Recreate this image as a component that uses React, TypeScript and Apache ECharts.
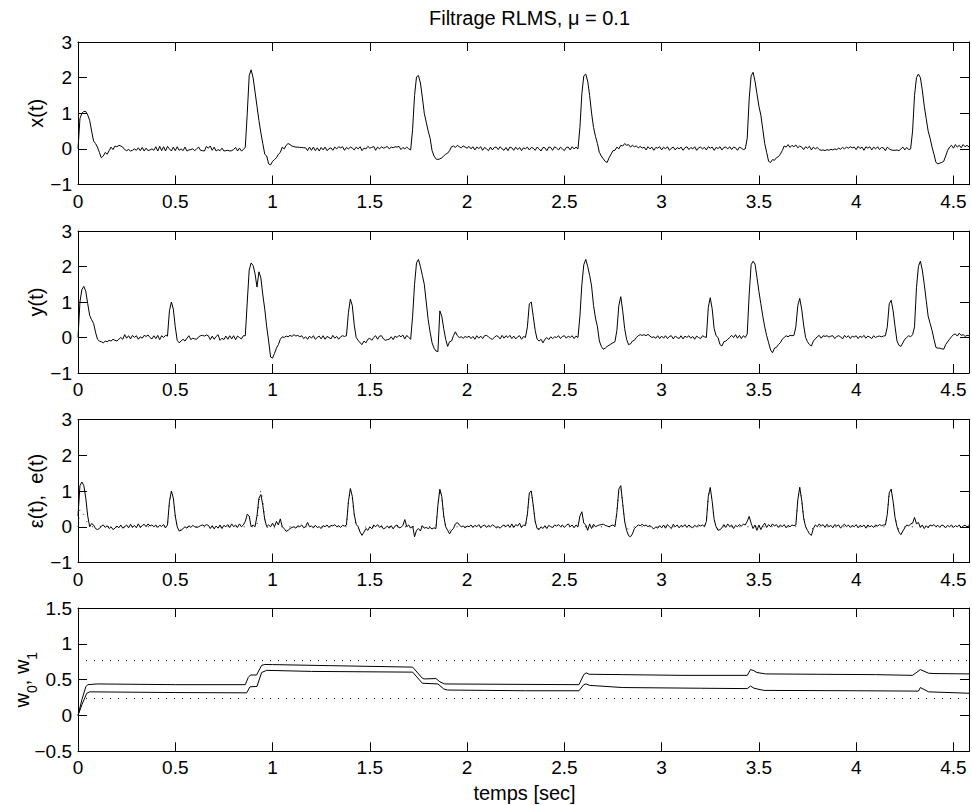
import React, { useEffect, useRef } from 'react';
import * as echarts from 'echarts';

// ---------- data ----------
const DT = 0.01; // sampling step of the signals (s)
const T_MAX = 4.58;
const X_TICK = 0.5;
const TITLE = 'Filtrage RLMS, \u03bc = 0.1';
const X_NAME = 'temps [sec]';
const Y_NAMES = ['x(t)', 'y(t)', '\u03b5(t),  e(t)'];
const Y_RANGES = [
  [-1, 3, 1],
  [-1, 3, 1],
  [-1, 3, 1],
  [-0.5, 1.5, 0.5],
];
const W_REF = [0.765, 0.235];

// x(t), one row = 0.1 s
const xSig = [
  0.0, 0.85, 1.0, 1.05, 1.05, 0.95, 0.8, 0.5, 0.22, 0.15,
  0.05, -0.1, -0.25, -0.2, -0.1, -0.15, -0.05, 0.05, -0.02, 0.08,
  0.06, 0.1, 0.08, 0.05, -0.02, -0.05, -0.02, -0.06, -0.04, 0.0,
  -0.04, 0.03, -0.05, 0.04, -0.06, 0.02, -0.05, -0.03, 0.0, -0.04,
  0.06, -0.06, 0.07, -0.05, 0.06, -0.06, 0.07, 0.0, -0.06, 0.05,
  -0.05, 0.06, -0.04, 0.0, -0.05, 0.05, -0.06, -0.03, -0.02, 0.0,
  -0.05, 0.0, 0.05, -0.04, -0.05, -0.06, 0.07, 0.02, 0.08, -0.04,
  0.05, -0.06, -0.02, -0.05, 0.02, -0.06, -0.05, -0.04, -0.06, -0.05,
  -0.02, 0.04, -0.06, 0.02, -0.06, -0.02, 0.05, 1.0, 2.05, 2.22,
  2.0, 1.6, 1.2, 0.8, 0.45, 0.15, -0.15, -0.2, -0.42, -0.45,
  -0.35, -0.3, -0.25, -0.15, -0.1, 0.05, 0.0, 0.1, 0.15, 0.12,
  0.08, 0.06, 0.05, 0.05, 0.04, 0.04, 0.03, 0.03, -0.05, 0.05,
  -0.04, 0.05, -0.05, 0.03, -0.06, 0.04, -0.03, 0.05, -0.05, 0.0,
  0.03, -0.04, 0.05, 0.0, 0.06, 0.03, 0.06, -0.04, 0.04, 0.0,
  0.05, 0.02, -0.03, 0.05, 0.0, 0.06, -0.05, 0.02, 0.0, 0.07,
  0.02, 0.04, 0.07, -0.04, 0.05, 0.0, 0.06, 0.02, 0.04, 0.07,
  0.0, 0.05, 0.03, 0.06, 0.05, 0.07, -0.02, 0.04, 0.0, 0.05,
  0.0, -0.03, 0.55, 1.5, 2.02, 2.06, 1.85, 1.45, 1.0, 0.75,
  0.5, 0.3, -0.05, -0.2, -0.28, -0.3, -0.28, -0.25, -0.2, -0.15,
  -0.12, -0.05, 0.06, 0.08, 0.04, 0.1, 0.06, 0.03, 0.08, 0.05,
  0.02, 0.07, 0.0, 0.06, -0.03, 0.05, 0.01, 0.06, -0.04, 0.04,
  0.0, -0.05, 0.05, -0.03, 0.04, 0.05, -0.02, 0.06, 0.0, -0.04,
  0.04, -0.05, 0.05, 0.03, -0.04, 0.05, -0.02, 0.04, -0.05, 0.03,
  0.0, 0.05, -0.03, 0.04, 0.02, -0.04, 0.05, 0.0, -0.06, 0.04,
  0.03, -0.05, 0.05, 0.04, -0.04, 0.06, 0.02, -0.03, 0.05, 0.0,
  -0.05, 0.04, 0.05, -0.03, 0.06, 0.0, 0.05, 0.0, 0.6, 1.55,
  2.05, 2.1, 1.9, 1.5, 1.0, 0.6, 0.35, 0.15, -0.1, -0.2,
  -0.28, -0.35, -0.38, -0.25, -0.15, -0.05, -0.04, 0.05, 0.0, 0.1,
  0.08, 0.15, 0.1, 0.12, 0.05, 0.1, 0.06, 0.08, 0.03, 0.07,
  0.02, 0.05, -0.03, 0.06, 0.0, 0.05, -0.04, 0.04, 0.02, 0.06,
  -0.03, 0.05, 0.0, 0.06, -0.04, 0.02, 0.05, -0.03, 0.04, 0.0,
  0.05, -0.04, 0.03, 0.06, -0.02, 0.04, 0.0, 0.06, -0.04, 0.03,
  0.05, 0.0, 0.04, -0.03, 0.06, 0.02, 0.05, -0.04, 0.04, 0.01,
  0.06, -0.03, 0.04, 0.05, 0.0, 0.06, -0.02, 0.05, 0.03, -0.04,
  0.05, 0.02, -0.02, 0.0, 0.3, 1.4, 2.05, 2.15, 1.9, 1.55,
  1.2, 0.95, 0.55, 0.15, -0.1, -0.35, -0.38, -0.3, -0.32, -0.25,
  -0.22, -0.15, -0.05, 0.08, 0.05, 0.12, 0.04, 0.1, 0.06, 0.11,
  0.03, 0.08, 0.05, -0.02, 0.06, 0.02, 0.07, -0.03, 0.05, 0.0,
  0.04, -0.02, -0.04, -0.03, -0.05, -0.02, -0.04, -0.01, -0.03, 0.0,
  -0.02, 0.02, -0.01, 0.04, 0.0, 0.05, 0.02, 0.06, 0.03, 0.05,
  -0.02, 0.07, 0.01, 0.05, -0.04, 0.06, 0.02, 0.06, -0.03, 0.05,
  0.0, 0.06, -0.02, 0.04, 0.03, -0.05, 0.05, 0.0, -0.03, -0.04,
  -0.04, -0.03, -0.05, 0.0, 0.05, -0.03, 0.04, -0.02, 0.0, 0.5,
  1.5, 2.0, 2.1, 2.0, 1.65, 1.2, 0.85, 0.5, 0.3, 0.05,
  -0.15, -0.38, -0.42, -0.4, -0.38, -0.35, -0.2, -0.05, 0.05, 0.1,
  0.02, 0.12, 0.05, 0.1, 0.03, 0.12, 0.06, 0.1, 0.05,
];

// y(t)
const ySig = [
  0.0, 1.0, 1.35, 1.44, 1.3, 0.95, 0.62, 0.5, 0.4, 0.15,
  -0.05, -0.1, -0.12, -0.15, -0.1, -0.12, -0.08, -0.1, -0.05, -0.08,
  -0.1, -0.05, 0.0, -0.05, 0.08, -0.02, 0.05, -0.04, 0.06, 0.0,
  0.05, -0.05, 0.02, -0.02, 0.06, 0.03, 0.07, 0.0, -0.04, 0.05,
  -0.03, 0.06, -0.06, 0.05, 0.0, 0.06, 0.04, 0.75, 1.0, 0.8,
  0.3, -0.08, -0.15, -0.1, -0.05, -0.1, -0.02, 0.05, -0.06, -0.02,
  -0.04, -0.05, 0.02, 0.05, 0.06, 0.04, 0.07, 0.05, -0.06, 0.04,
  -0.05, 0.03, 0.08, -0.08, -0.02, -0.06, 0.04, -0.05, 0.05, -0.04,
  0.05, -0.06, 0.04, 0.0, -0.04, 0.05, 0.05, 1.0, 1.9, 2.1,
  2.03, 1.8, 1.42, 1.85, 1.68, 1.2, 0.8, 0.3, -0.1, -0.55,
  -0.58, -0.45, -0.3, -0.2, -0.05, 0.02, 0.0, 0.04, 0.02, 0.06,
  0.03, 0.08, 0.04, 0.06, 0.02, 0.05, -0.03, 0.02, -0.05, 0.04,
  -0.02, 0.05, -0.05, 0.0, 0.04, -0.04, 0.05, -0.05, 0.03, 0.0,
  -0.04, 0.06, -0.02, 0.03, -0.05, 0.02, 0.05, 0.03, 0.05, 0.7,
  1.08, 0.9, 0.35, 0.0, -0.08, -0.15, -0.2, -0.1, -0.15, -0.05,
  -0.02, -0.08, 0.0, 0.05, -0.05, 0.04, 0.05, -0.04, -0.08, -0.06,
  -0.05, 0.02, -0.06, 0.04, 0.0, 0.06, 0.02, 0.07, -0.04, 0.06,
  0.0, -0.05, 0.6, 1.5, 2.1, 2.2, 2.0, 1.75, 1.5, 1.0,
  0.5, 0.15, -0.15, -0.3, -0.38, -0.4, 0.75, 0.6, 0.25, -0.05,
  -0.25, -0.12, -0.1, 0.05, 0.16, 0.05, 0.0, 0.02, -0.02, 0.03,
  0.0, 0.04, -0.03, 0.03, -0.05, 0.05, -0.02, 0.04, -0.03, 0.05,
  0.06, 0.02, -0.03, -0.05, 0.0, 0.05, 0.03, -0.04, 0.06, -0.02,
  0.05, 0.0, 0.06, -0.03, 0.04, -0.04, 0.02, 0.05, -0.05, 0.03,
  0.0, 0.3, 0.95, 1.0, 0.6, 0.2, -0.05, -0.1, -0.05, -0.15,
  -0.05, 0.0, -0.06, 0.02, -0.03, 0.02, 0.0, 0.05, -0.03, 0.03,
  0.05, -0.02, 0.04, 0.0, 0.05, -0.03, 0.04, 0.0, 0.6, 1.5,
  2.05, 2.2, 2.0, 1.75, 1.45, 0.9, 0.55, 0.3, -0.1, -0.25,
  -0.33, -0.3, -0.25, -0.22, -0.18, -0.15, -0.12, 0.2, 0.9, 1.15,
  0.75, 0.25, -0.05, -0.2, -0.18, -0.1, -0.08, 0.0, 0.05, 0.08,
  0.06, 0.08, 0.05, 0.09, 0.04, 0.0, 0.02, -0.02, 0.05, -0.03,
  0.04, -0.02, 0.05, -0.03, 0.03, 0.05, -0.04, 0.04, 0.0, -0.03,
  0.05, -0.04, 0.04, 0.0, 0.05, -0.02, 0.03, -0.05, 0.04, 0.0,
  -0.03, 0.05, 0.02, 0.0, 0.85, 1.12, 0.8, 0.25, 0.05, 0.0,
  -0.2, -0.24, -0.12, -0.1, -0.05, 0.0, 0.06, 0.0, 0.08, -0.02,
  0.06, -0.03, 0.05, 0.0, 0.1, 1.2, 2.05, 2.15, 2.07, 1.7,
  1.3, 0.95, 0.6, 0.3, 0.05, -0.15, -0.35, -0.43, -0.3, -0.28,
  -0.2, -0.15, -0.05, 0.0, 0.05, 0.02, 0.06, 0.05, 0.06, 0.3,
  0.9, 1.1, 0.8, 0.35, 0.0, -0.12, -0.2, -0.24, -0.1, -0.04,
  0.02, 0.06, -0.02, 0.05, 0.03, 0.05, 0.01, 0.04, 0.05, -0.03,
  0.03, 0.05, 0.02, -0.04, 0.06, 0.0, 0.05, -0.03, 0.04, 0.01,
  0.05, -0.03, 0.04, 0.0, 0.06, -0.02, 0.04, 0.01, -0.03, 0.05,
  0.0, 0.03, 0.04, 0.02, 0.04, 0.05, 0.3, 0.95, 1.05, 0.75,
  0.3, -0.1, -0.22, -0.25, -0.15, -0.05, 0.0, 0.05, 0.02, 0.08,
  0.3, 1.4, 2.0, 2.15, 1.9, 1.5, 1.05, 0.6, 0.4, 0.2,
  -0.05, -0.28, -0.3, -0.3, -0.32, -0.33, -0.2, -0.12, -0.05, 0.02,
  0.08, 0.1, 0.04, 0.12, 0.06, 0.08, 0.03, 0.06, 0.05,
];

// epsilon(t) (solid)
const epsSig = [
  0.3, 1.15, 1.25, 1.15, 0.8, 0.3, 0.0, 0.09, 0.05, -0.05,
  -0.08, -0.05, 0.02, 0.05, -0.02, 0.03, -0.05, 0.0, -0.08, -0.04,
  0.02, -0.03, 0.05, -0.04, 0.0, 0.05, -0.03, 0.07, -0.02, 0.04,
  -0.03, 0.08, -0.02, 0.03, 0.07, 0.0, 0.08, 0.02, 0.05, 0.0,
  0.05, -0.02, 0.04, 0.01, 0.06, -0.03, 0.05, 0.7, 1.0, 0.8,
  0.3, 0.0, -0.12, -0.1, -0.05, 0.0, -0.04, 0.03, -0.02, 0.04,
  0.0, -0.02, 0.0, 0.03, 0.05, 0.02, 0.06, 0.04, -0.05, 0.03,
  -0.06, 0.02, -0.04, 0.05, -0.05, 0.04, 0.0, 0.06, -0.02, 0.08,
  0.0, 0.05, -0.02, 0.08, 0.0, 0.05, 0.15, 0.35, 0.3, 0.0,
  0.05, 0.0, 0.3, 0.8, 0.9, 0.6, 0.2, 0.0, 0.05, 0.0,
  0.1, 0.0, 0.15, 0.05, 0.22, 0.0, -0.05, -0.13, -0.1, -0.05,
  -0.02, 0.0, -0.04, 0.03, 0.0, 0.05, -0.03, 0.0, 0.12, 0.0,
  0.02, -0.03, 0.04, -0.02, 0.0, -0.05, 0.03, 0.0, 0.05, -0.02,
  0.04, 0.02, 0.06, 0.0, 0.03, -0.02, 0.04, 0.02, 0.05, 0.7,
  1.07, 0.85, 0.35, 0.07, 0.0, -0.15, -0.24, -0.15, -0.05, -0.1,
  0.0, -0.06, 0.05, 0.0, 0.06, -0.02, 0.03, -0.06, -0.03, 0.02,
  -0.04, 0.03, -0.06, 0.02, 0.05, -0.03, -0.02, 0.04, 0.2, 0.0,
  0.05, -0.04, 0.02, -0.28, -0.1, -0.05, -0.12, 0.03, -0.04, -0.02,
  -0.05, -0.02, -0.06, -0.03, -0.05, 0.6, 1.05, 0.85, 0.3, 0.0,
  -0.1, -0.2, -0.1, -0.05, 0.08, 0.12, 0.05, 0.0, 0.02, -0.03,
  0.02, 0.0, 0.05, -0.02, 0.04, 0.0, 0.06, -0.03, 0.02, 0.05,
  -0.02, 0.04, 0.0, 0.05, 0.02, -0.03, 0.0, -0.04, 0.02, 0.05,
  0.0, 0.06, -0.02, 0.08, -0.02, 0.06, 0.02, 0.1, -0.02, 0.05,
  0.03, 0.35, 0.95, 1.0, 0.6, 0.15, -0.05, -0.08, 0.0, -0.05,
  0.03, -0.05, 0.04, 0.0, -0.02, 0.05, 0.02, 0.06, 0.0, 0.05,
  -0.02, 0.04, 0.08, 0.0, 0.05, -0.03, 0.05, 0.0, 0.3, 0.42,
  0.1, 0.05, -0.1, 0.08, -0.05, 0.07, 0.0, 0.03, 0.05, 0.06,
  0.07, 0.04, 0.02, 0.0, 0.03, 0.05, 0.0, 0.4, 1.05, 1.15,
  0.65, 0.15, -0.1, -0.25, -0.28, -0.2, -0.05, 0.0, 0.05, 0.03,
  0.07, 0.02, 0.05, 0.0, 0.04, -0.02, -0.06, 0.0, -0.04, 0.03,
  -0.03, 0.05, -0.04, 0.06, 0.0, -0.05, 0.07, 0.0, 0.05, -0.03,
  0.04, 0.0, 0.06, -0.02, 0.05, 0.0, -0.03, 0.04, 0.0, 0.05,
  0.02, 0.05, 0.0, 0.15, 0.85, 1.1, 0.7, 0.2, 0.0, -0.1,
  -0.08, -0.03, 0.06, -0.02, 0.08, 0.0, 0.05, -0.05, 0.04, 0.0,
  0.06, 0.02, 0.07, 0.05, 0.15, 0.29, 0.1, -0.05, 0.05, -0.1,
  0.05, -0.08, 0.03, 0.1, -0.02, 0.06, 0.0, 0.08, 0.02, 0.06,
  -0.02, 0.05, 0.0, 0.06, -0.03, 0.04, 0.0, 0.05, 0.03, 0.05,
  0.75, 1.1, 0.75, 0.25, 0.0, -0.1, -0.2, -0.24, -0.05, 0.05,
  0.0, 0.08, 0.02, 0.06, -0.02, 0.07, 0.0, 0.04, -0.03, 0.06,
  0.02, 0.05, -0.04, 0.03, 0.07, 0.0, 0.05, -0.02, 0.04, 0.0,
  0.06, -0.03, 0.04, 0.0, 0.05, -0.04, 0.05, 0.0, 0.03, -0.02,
  0.05, 0.02, 0.06, 0.03, 0.05, 0.05, 0.35, 0.95, 1.05, 0.7,
  0.25, 0.0, -0.15, -0.22, -0.12, -0.03, 0.05, 0.02, 0.08, 0.1,
  0.26, 0.08, 0.12, -0.02, 0.05, -0.05, 0.03, -0.03, 0.05, 0.02,
  0.06, 0.0, 0.04, -0.02, 0.05, 0.03, -0.03, 0.04, 0.0, 0.05,
  -0.02, 0.03, 0.0, 0.05, -0.03, 0.02, 0.04, 0.0, 0.03,
];

// e(t) (dotted), [t, value]
const eRef = [
  [0, 0], [0.01, 0.5], [0.02, 0.45], [0.03, 0.3], [0.05, 0.1], [0.07, 0],
  [0.46, 0], [0.47, 0.65], [0.48, 1.0], [0.49, 0.8], [0.5, 0.3], [0.51, 0], [0.53, -0.08], [0.56, 0],
  [0.92, 0], [0.93, 0.7], [0.94, 1.03], [0.95, 0.75], [0.96, 0.25], [0.97, 0], [0.99, -0.08], [1.02, 0],
  [1.38, 0], [1.39, 0.7], [1.4, 1.05], [1.41, 0.8], [1.42, 0.3], [1.43, 0], [1.45, -0.1], [1.48, 0],
  [1.84, 0], [1.85, 0.6], [1.86, 1.05], [1.87, 0.8], [1.88, 0.3], [1.89, 0], [1.91, -0.1], [1.94, 0],
  [2.3, 0], [2.31, 0.35], [2.32, 0.95], [2.33, 1.0], [2.34, 0.6], [2.35, 0.15], [2.37, -0.08], [2.4, 0],
  [2.76, 0], [2.77, 0.4], [2.78, 1.0], [2.79, 1.1], [2.8, 0.6], [2.81, 0.15], [2.83, -0.1], [2.86, 0],
  [3.22, 0], [3.23, 0.15], [3.24, 0.85], [3.25, 1.1], [3.26, 0.7], [3.27, 0.2], [3.29, -0.08], [3.32, 0],
  [3.69, 0], [3.7, 0.75], [3.71, 1.1], [3.72, 0.75], [3.73, 0.25], [3.74, 0], [3.76, -0.1], [3.79, 0],
  [4.15, 0], [4.16, 0.35], [4.17, 0.95], [4.18, 1.05], [4.19, 0.7], [4.2, 0.25], [4.22, -0.1], [4.25, 0],
  [4.58, 0],
];

// adaptive weights, [t, value]
const w0 = [
  [0, 0], [0.02, 0.22], [0.04, 0.4], [0.05, 0.43], [0.1, 0.44], [0.5, 0.43], [0.86, 0.43],
  [0.875, 0.53], [0.887, 0.565], [0.918, 0.565], [0.944, 0.7], [0.961, 0.712], [1.0, 0.71],
  [1.3, 0.695], [1.72, 0.675], [1.77, 0.52], [1.78, 0.51], [1.84, 0.515], [1.86, 0.47],
  [1.885, 0.44], [2.2, 0.435], [2.575, 0.43], [2.6, 0.57], [2.612, 0.595], [2.628, 0.575],
  [2.8, 0.57], [3.1, 0.56], [3.44, 0.56], [3.457, 0.64], [3.47, 0.63], [3.49, 0.6],
  [3.534, 0.58], [3.8, 0.575], [4.1, 0.57], [4.29, 0.56], [4.33, 0.64], [4.372, 0.59],
  [4.4, 0.585], [4.58, 0.58],
];
const w1 = [
  [0, 0], [0.02, 0.15], [0.045, 0.31], [0.06, 0.33], [0.5, 0.32], [0.867, 0.316],
  [0.884, 0.4], [0.92, 0.405], [0.944, 0.6], [0.97, 0.63], [1.2, 0.615], [1.72, 0.605],
  [1.77, 0.45], [1.85, 0.44], [1.88, 0.37], [1.9, 0.355], [2.3, 0.345], [2.575, 0.345],
  [2.6, 0.43], [2.612, 0.44], [2.63, 0.42], [2.8, 0.39], [3.2, 0.38], [3.44, 0.375],
  [3.457, 0.41], [3.475, 0.38], [3.525, 0.35], [4.0, 0.345], [4.32, 0.34], [4.33, 0.39],
  [4.372, 0.33], [4.58, 0.31],
];

// ---------- helpers ----------
const FONT = '"Liberation Sans", Arial, Helvetica, sans-serif';

function withTime(vals: number[]) {
  return vals.map((v, i) => [Math.round(i * DT * 100) / 100, v]);
}

function fmt(v: number) {
  const s = String(Math.round(v * 100) / 100);
  return v < 0 ? '\u2212' + s.replace('-', '') : s;
}

function xFmt(v: number) {
  const k = v / X_TICK;
  return Math.abs(k - Math.round(k)) < 1e-6 ? fmt(v) : '';
}

const GRID_POS = [
  { top: 42, height: 142.5 },
  { top: 231, height: 142 },
  { top: 419.5, height: 143 },
  { top: 608, height: 143.3 },
];
const LEFT = 78;
const WIDTH = 893;

export default function App() {
  const ref = useRef<HTMLDivElement>(null);

  useEffect(() => {
    if (!ref.current) return;
    const chart = echarts.init(ref.current, undefined, { renderer: 'svg' });

    const grid = GRID_POS.map((g) => ({ left: LEFT, top: g.top, width: WIDTH, height: g.height }));
    const xAxis: any[] = [];
    const yAxis: any[] = [];
    GRID_POS.forEach((_, i) => {
      const axisLine = { show: true, onZero: false, lineStyle: { color: '#000', width: 1 } };
      const axisTick = { show: true, inside: true, length: 9, lineStyle: { color: '#000', width: 1 } };
      const xb = {
        type: 'value', gridIndex: i, min: 0, max: T_MAX, interval: X_TICK,
        splitLine: { show: false }, axisLine, axisTick,
      };
      xAxis.push({
        ...xb, position: 'bottom',
        axisLabel: { show: true, color: '#000', fontSize: 19, fontFamily: FONT, margin: 7, formatter: xFmt },
      });
      xAxis.push({ ...xb, position: 'top', axisLabel: { show: false } });
      const [mn, mx, st] = Y_RANGES[i];
      const yb = {
        type: 'value', gridIndex: i, min: mn, max: mx, interval: st,
        splitLine: { show: false }, axisLine, axisTick,
      };
      yAxis.push({
        ...yb, position: 'left',
        axisLabel: { show: true, color: '#000', fontSize: 19, fontFamily: FONT, margin: 6, formatter: fmt },
      });
      yAxis.push({ ...yb, position: 'right', axisLabel: { show: false } });
    });

    const solid = { color: '#000', width: 1 };
    const dotted = { color: '#222', width: 1, type: [1, 7] };
    const base = { type: 'line', symbol: 'none', silent: true, animation: false, emphasis: { disabled: true } };

    const series: any[] = [
      { ...base, name: 'x(t)', xAxisIndex: 0, yAxisIndex: 0, data: withTime(xSig), lineStyle: solid },
      { ...base, name: 'y(t)', xAxisIndex: 2, yAxisIndex: 2, data: withTime(ySig), lineStyle: solid },
      { ...base, name: 'e(t)', xAxisIndex: 4, yAxisIndex: 4, data: eRef, lineStyle: dotted },
      { ...base, name: 'eps(t)', xAxisIndex: 4, yAxisIndex: 4, data: withTime(epsSig), lineStyle: solid },
      { ...base, name: 'w0', xAxisIndex: 6, yAxisIndex: 6, data: w0, lineStyle: solid },
      { ...base, name: 'w1', xAxisIndex: 6, yAxisIndex: 6, data: w1, lineStyle: solid },
      ...W_REF.map((v, k) => ({
        ...base, name: 'ref' + k, xAxisIndex: 6, yAxisIndex: 6,
        data: [[0, v], [T_MAX, v]], lineStyle: { ...dotted, color: '#000' },
      })),
    ];

    const centers = GRID_POS.map((g) => g.top + g.height / 2);
    const txt = (text: string) => ({
      text, fontSize: 20, fontFamily: FONT, fill: '#000',
      align: 'center', verticalAlign: 'middle', textAlign: 'center', textVerticalAlign: 'middle',
    });

    const graphic: any[] = [
      ...Y_NAMES.map((name, i) => ({
        type: 'text', x: 36, y: centers[i], rotation: Math.PI / 2, silent: true, style: txt(name),
      })),
      {
        type: 'text', x: 21.5, y: centers[3], rotation: Math.PI / 2, silent: true,
        style: {
          text: '{a|w}{b|0}{a|, w}{b|1}',
          fontFamily: FONT, fill: '#000',
          align: 'center', verticalAlign: 'middle', textAlign: 'center', textVerticalAlign: 'middle',
          rich: {
            a: { fontSize: 20, lineHeight: 20, fontFamily: FONT, fill: '#000', verticalAlign: 'top' },
            b: { fontSize: 14, lineHeight: 14, fontFamily: FONT, fill: '#000', verticalAlign: 'top', padding: [13, 0, 0, 0] },
          },
        },
      },
      { type: 'text', x: LEFT + WIDTH / 2, y: 792.5, silent: true, style: txt(X_NAME) },
    ];

    chart.setOption({
      animation: false,
      backgroundColor: '#fff',
      title: {
        text: TITLE, left: LEFT + WIDTH / 2, top: 2.5, textAlign: 'center',
        textStyle: { fontSize: 20, fontWeight: 'normal', color: '#000', fontFamily: FONT },
      },
      grid, xAxis, yAxis, series, graphic,
    });

    return () => chart.dispose();
  }, []);

  return (
    <div
      ref={ref}
      style={{ position: 'fixed', left: 0, top: 0, width: 972, height: 805, background: '#fff' }}
    />
  );
}
